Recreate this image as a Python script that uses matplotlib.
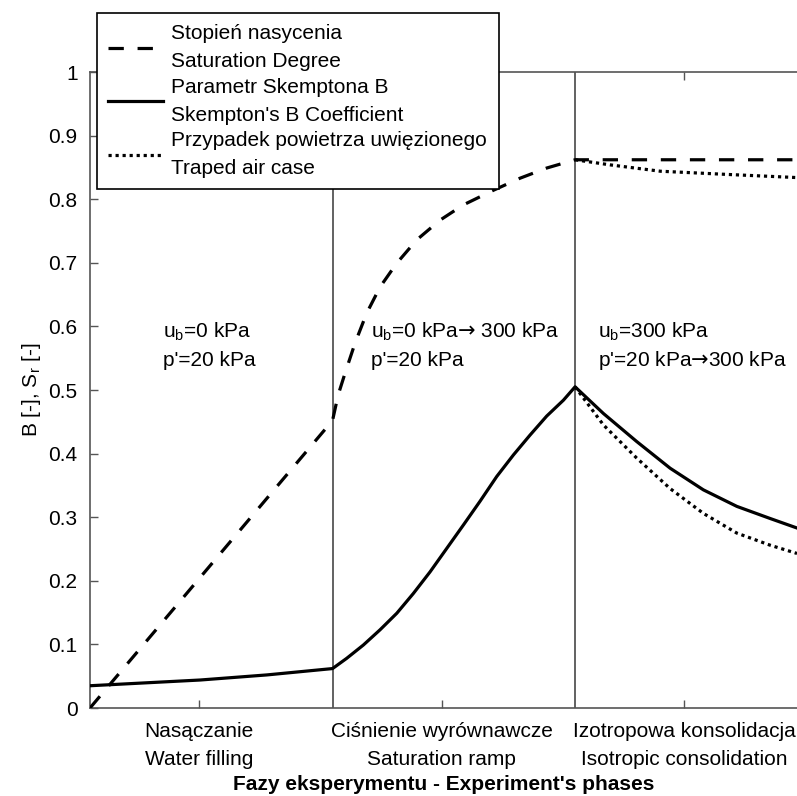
import matplotlib
matplotlib.use("Agg")
import matplotlib.pyplot as plt
from matplotlib.lines import Line2D

plt.rcParams['font.family'] = ['Liberation Sans', 'DejaVu Sans']
plt.rcParams['mathtext.fontset'] = 'custom'
plt.rcParams['mathtext.rm'] = 'DejaVu Sans'
plt.rcParams['mathtext.it'] = 'DejaVu Sans'
plt.rcParams['mathtext.default'] = 'rm'

# ---- data ----
sat_x = [0, 1.0, 1.023, 1.052, 1.093, 1.141, 1.196, 1.264, 1.347, 1.443, 1.539, 1.663, 1.773, 1.883, 2.0, 2.915]
sat_y = [0, 0.452, 0.492, 0.527, 0.574, 0.621, 0.662, 0.699, 0.736, 0.767, 0.791, 0.814, 0.833, 0.849, 0.862, 0.862]

b_x = [0, 0.454, 0.729, 1.0, 1.058, 1.127, 1.196, 1.265, 1.333, 1.402, 1.471, 1.540, 1.608,
       1.677, 1.746, 1.814, 1.883, 1.952, 2.0, 2.117, 2.254, 2.392, 2.529, 2.667, 2.804, 2.915]
b_y = [0.035, 0.044, 0.052, 0.062, 0.078, 0.099, 0.123, 0.149, 0.180, 0.214, 0.251, 0.288, 0.325,
       0.364, 0.398, 0.429, 0.459, 0.484, 0.505, 0.463, 0.419, 0.377, 0.343, 0.317, 0.298, 0.283]

trap_b_x = [2.0, 2.117, 2.254, 2.392, 2.529, 2.667, 2.804, 2.915]
trap_b_y = [0.505, 0.445, 0.393, 0.345, 0.306, 0.275, 0.256, 0.243]

trap_sat_x = [2.0, 2.144, 2.351, 2.625, 2.915]
trap_sat_y = [0.862, 0.854, 0.844, 0.839, 0.834]

phase_bounds = [1, 2]
tick_pos = [0.45, 1.45, 2.45]
tick_labels = ["Nasączanie\nWater filling",
               "Ciśnienie wyrównawcze\nSaturation ramp",
               "Izotropowa konsolidacja\nIsotropic consolidation"]
y_ticks = [0, 0.1, 0.2, 0.3, 0.4, 0.5, 0.6, 0.7, 0.8, 0.9, 1]
y_tick_labels = ["0", "0.1", "0.2", "0.3", "0.4", "0.5", "0.6", "0.7", "0.8", "0.9", "1"]

annot_x = [0.301, 1.157, 2.096]
annot_line1 = ["u$_\\mathregular{b}$=0 kPa",
               "u$_\\mathregular{b}$=0 kPa$→$ 300 kPa",
               "u$_\\mathregular{b}$=300 kPa"]
annot_line2 = ["p'=20 kPa",
               "p'=20 kPa",
               "p'=20 kPa$→$300 kPa"]

legend_labels = ["Stopień nasycenia\nSaturation Degree",
                 "Parametr Skemptona B\nSkempton's B Coefficient",
                 "Przypadek powietrza uwięzionego\nTraped air case"]

# ---- figure ----
W, H = 797, 796
FS = 15
fig = plt.figure(figsize=(W / 100, H / 100), dpi=100)
ax = fig.add_axes([90 / W, 1 - 708 / H, (W - 90) / W, (708 - 72) / H])

spine_c = '#555555'
lw = 2.3
dash = (0, (4.8, 4.3))
dot = (0, (1, 1.2))

for xb in phase_bounds:
    ax.axvline(xb, color=spine_c, lw=1.3, zorder=1)

ax.plot(trap_sat_x, trap_sat_y, color='black', lw=lw, linestyle=dot, zorder=3)
ax.plot(trap_b_x, trap_b_y, color='black', lw=lw, linestyle=dot, zorder=3)
ax.plot(sat_x, sat_y, color='black', lw=lw, linestyle=dash, zorder=4)
ax.plot(b_x, b_y, color='black', lw=lw, solid_joinstyle='round', zorder=4)

ax.set_xlim(0, 2.915)
ax.set_ylim(0, 1)

ax.set_yticks(y_ticks)
ax.set_yticklabels(y_tick_labels)
ax.set_xticks(tick_pos)
ax.set_xticklabels(tick_labels, linespacing=1.58)

ax.tick_params(axis='both', direction='in', length=6, width=1, color=spine_c,
               labelsize=FS, labelcolor='black')
ax.tick_params(axis='x', top=True, pad=10)
ax.tick_params(axis='y', pad=9)

for s in ['left', 'bottom', 'top']:
    ax.spines[s].set_color(spine_c)
    ax.spines[s].set_linewidth(1.2)
ax.spines['right'].set_visible(False)

ax.set_xlabel("Fazy eksperymentu - Experiment's phases", fontsize=FS,
              fontweight='bold', labelpad=4.5)
ax.set_ylabel("B [-], S$_\\mathregular{r}$ [-]", fontsize=FS, labelpad=4)

for xa, t1, t2 in zip(annot_x, annot_line1, annot_line2):
    ax.text(xa, 0.583, t1, fontsize=FS, ha='left', va='baseline', zorder=5)
    ax.text(xa, 0.537, t2, fontsize=FS, ha='left', va='baseline', zorder=5)

handles = [Line2D([], [], color='black', lw=lw, linestyle=dash),
           Line2D([], [], color='black', lw=lw),
           Line2D([], [], color='black', lw=lw, linestyle=dot)]
leg = fig.legend(handles, legend_labels, loc='upper left',
                 bbox_to_anchor=(97 / W, 1 - 13 / H), borderaxespad=0,
                 fontsize=FS, frameon=True, fancybox=False, framealpha=1,
                 edgecolor='black', handlelength=2.64, handletextpad=0.38,
                 labelspacing=0.3, borderpad=0.55)
for t in leg.get_texts():
    t.set_linespacing(1.6)
leg.get_frame().set_linewidth(1.2)
leg.set_zorder(10)

fig.savefig("out.png", dpi=100)
